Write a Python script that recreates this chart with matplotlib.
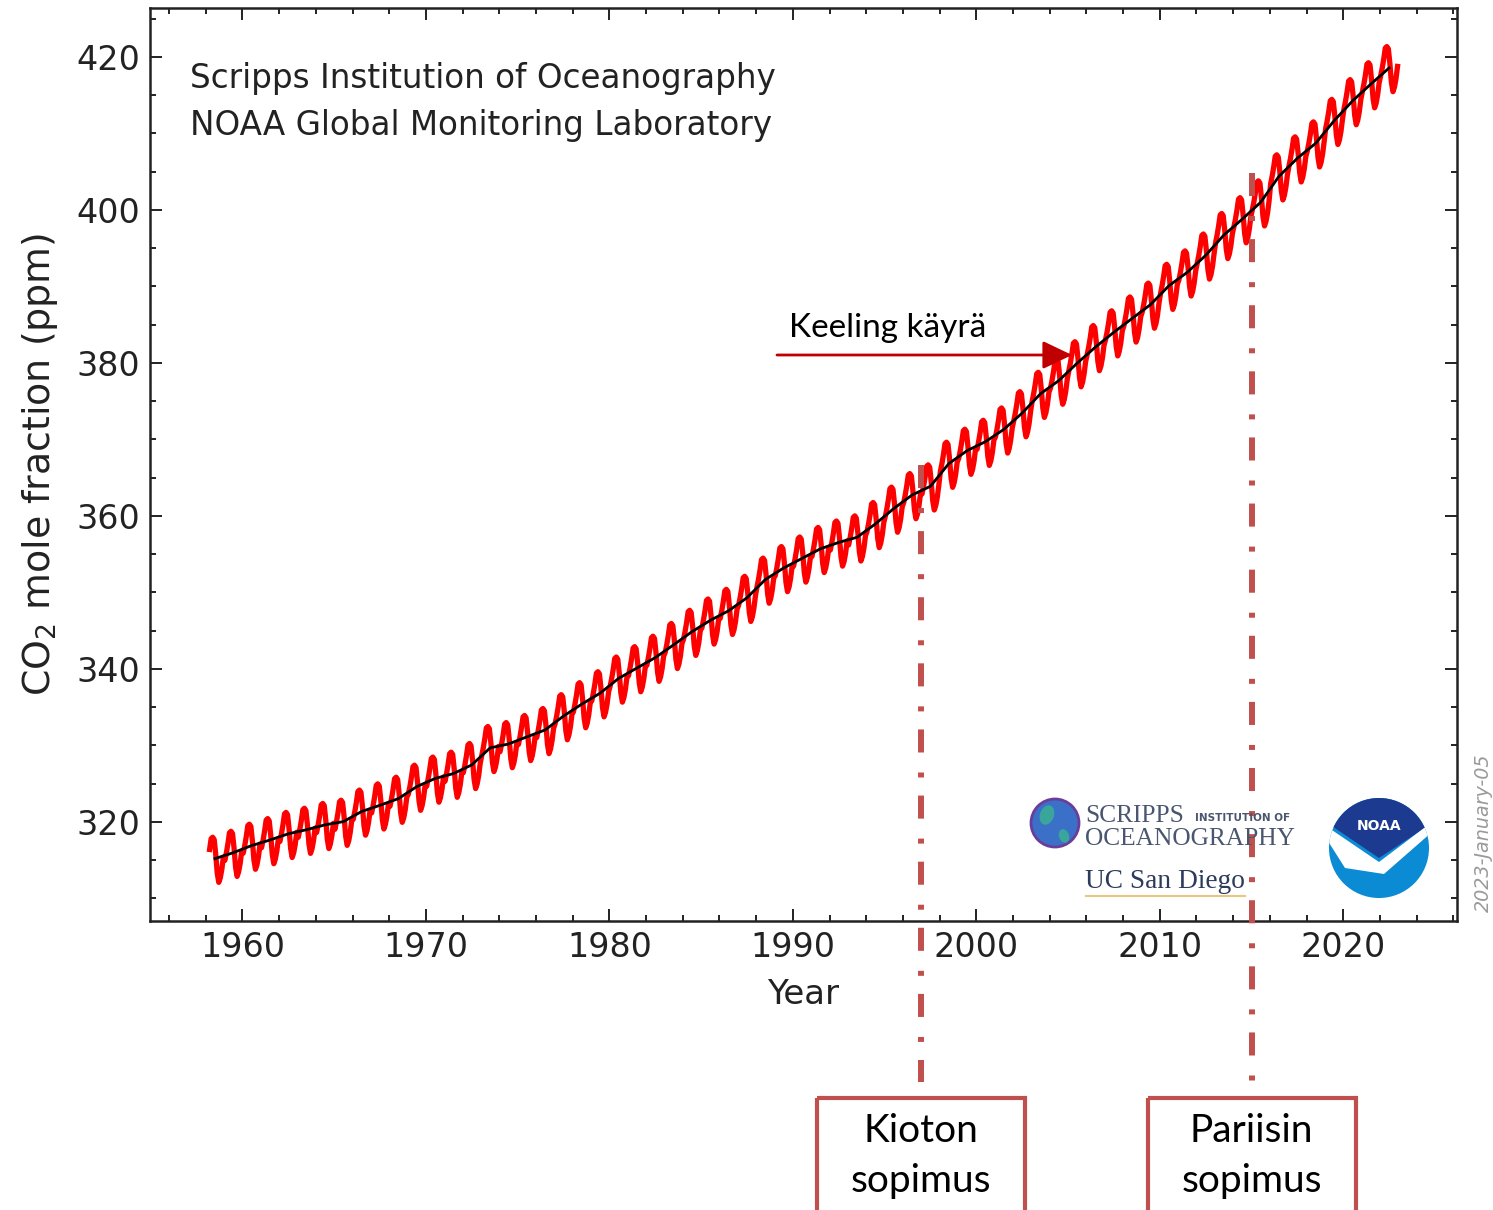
import matplotlib
matplotlib.use('Agg')
import matplotlib.pyplot as plt
from matplotlib.patches import Rectangle, Circle, Ellipse, Polygon
from matplotlib.ticker import MultipleLocator
from matplotlib.transforms import blended_transform_factory

# Mauna Loa CO2, annual means (ppm); record starts March 1958
years = list(range(1958, 2023))
annual_mean = [315.2, 315.98, 316.91, 317.64, 318.45, 318.99, 319.62, 320.04, 321.37, 322.18,
               323.05, 324.62, 325.68, 326.32, 327.46, 329.68, 330.19, 331.12, 332.03, 333.84,
               335.41, 336.84, 338.76, 340.12, 341.48, 343.15, 344.87, 346.35, 347.61, 349.31,
               351.69, 353.20, 354.45, 355.70, 356.54, 357.21, 358.96, 360.97, 362.74, 363.88,
               366.84, 368.54, 369.71, 371.32, 373.45, 375.98, 377.70, 379.98, 382.09, 384.02,
               385.83, 387.64, 390.10, 391.85, 394.06, 396.74, 398.81, 401.01, 404.41, 406.76,
               408.72, 411.66, 414.24, 416.45, 418.56]
# monthly offset from the annual mean, Jan..Dec
seasonal = [-1.0, 0.0, 1.2, 2.6, 2.8, 2.5, 0.6, -1.9, -3.1, -2.5, -1.4, 0.2]
first_month = 3

treaty_years = [1997, 2015]
treaty_labels = ['Kioton\nsopimus', 'Pariisin\nsopimus']

# monthly series
t, co2 = [], []
for y, base in zip(years, annual_mean):
    for m in range(12):
        if y == years[0] and m < first_month - 1:
            continue
        t.append(y + (m + 0.5) / 12)
        co2.append(base + seasonal[m])

plt.rcParams['lines.scale_dashes'] = False
fig = plt.figure(figsize=(14.93, 12.10), dpi=100)
ax = fig.add_axes([150 / 1493, 1 - 921 / 1210, 1307 / 1493, 913 / 1210])

ax.plot(t, co2, color='red', lw=3.8, zorder=2)
ax.plot([y + 0.5 for y in years], annual_mean, color='black', lw=2, zorder=3)

ax.set_xlim(1954.96, 2026.2)
ax.set_ylim(307.05, 426.4)
ax.xaxis.set_major_locator(MultipleLocator(10))
ax.xaxis.set_minor_locator(MultipleLocator(2))
ax.yaxis.set_major_locator(MultipleLocator(20))
ax.yaxis.set_minor_locator(MultipleLocator(5))
ax.tick_params(which='both', direction='in', top=True, right=True, width=1.4, colors='#222222')
ax.tick_params(which='major', length=8.6, labelsize=24, pad=7)
ax.tick_params(which='minor', length=4.3)
for s in ax.spines.values():
    s.set_linewidth(1.8)
    s.set_color('#222222')

ax.set_xlabel('Year', fontsize=24.5, color='#222222', labelpad=10)
ax.set_ylabel('CO$_2$ mole fraction (ppm)', fontsize=27.3, color='#222222', labelpad=12)

ax.text(0.0306, 0.923, 'Scripps Institution of Oceanography', transform=ax.transAxes,
        fontsize=23.5, va='center', color='#222222')
ax.text(0.0306, 0.871, 'NOAA Global Monitoring Laboratory', transform=ax.transAxes,
        fontsize=23.5, va='center', color='#222222')

fig.text(1483 / 1493, 1 - 833 / 1210, '2023-January-05', rotation=90, ha='center', va='center',
         fontsize=13.8, style='italic', color='#9a9a9a',
         family=['Liberation Sans Narrow', 'DejaVu Sans'])

# overlay in pixel units for the slide annotations
ov = fig.add_axes([0, 0, 1, 1], zorder=5)
ov.set_xlim(0, 1493)
ov.set_ylim(1210, 0)
ov.axis('off')
ov.patch.set_alpha(0)

# logos
ov.add_patch(Circle((1055, 823), 24, fc='#3b70c8', ec='#6a3d9a', lw=2))
ov.add_patch(Ellipse((1047, 815), 14, 20, angle=20, fc='#3aa59a', ec='none'))
ov.add_patch(Ellipse((1064, 836), 10, 14, angle=-20, fc='#3aa59a', ec='none'))
ov.text(1085, 816, 'SCRIPPS', fontsize=18.3, family='Liberation Serif', color='#4a5670',
        va='center')
ov.text(1195, 818, 'INSTITUTION OF', fontsize=7.5, weight='bold', color='#4a5670', va='center')
ov.text(1085, 839, 'OCEANOGRAPHY', fontsize=18.3, family='Liberation Serif', color='#4a5670',
        va='center')
ov.text(1085, 881, 'UC San Diego', fontsize=19.7, family='Liberation Serif', color='#2c3a5c',
        va='center')
ov.plot([1086, 1245], [896, 896], color='#e8c880', lw=1.5)

noaa = Circle((1379, 848), 50, fc='#0a8bd4', ec='none')
ov.add_patch(noaa)
top = Polygon([(1320, 790), (1440, 790), (1440, 818), (1379, 858), (1320, 818)],
              fc='#1c3a8f', ec='none')
ov.add_patch(top)
top.set_clip_path(noaa)
wing = Polygon([(1326, 826), (1379, 862), (1432, 822), (1432, 832), (1384, 874),
                (1345, 868), (1326, 838)], fc='white', ec='none')
ov.add_patch(wing)
wing.set_clip_path(noaa)
ov.text(1379, 826, 'NOAA', fontsize=10, weight='bold', color='white', ha='center', va='center')

# treaty markers
bt = blended_transform_factory(ax.transData, ov.transData)
line_tops = [465, 173]
for yr, top_px, lab in zip(treaty_years, line_tops, treaty_labels):
    ov.plot([yr, yr], [top_px, 1082], transform=bt, color='#c0504d', lw=4.3,
            dashes=(16.6, 14.4, 3.6, 13.0), solid_capstyle='butt', dash_capstyle='butt')
    xc = ax.transData.transform((yr, 0))[0]
    ov.add_patch(Rectangle((xc - 104, 1098), 208, 140, fill=False, ec='#c0504d', lw=3))
    ov.text(xc, 1156, lab, ha='center', va='center', fontsize=28, family='Lato',
            linespacing=1.45, color='black')

ov.text(789, 328, 'Keeling käyrä', fontsize=24, family='Lato', va='center', color='black')
ov.annotate('', xy=(1072, 355), xytext=(777, 355),
            arrowprops=dict(arrowstyle='-|>,head_length=0.9,head_width=0.43', color='#c00000',
                            lw=2, mutation_scale=20, shrinkA=0, shrinkB=0))

fig.savefig('out.png', dpi=100)
